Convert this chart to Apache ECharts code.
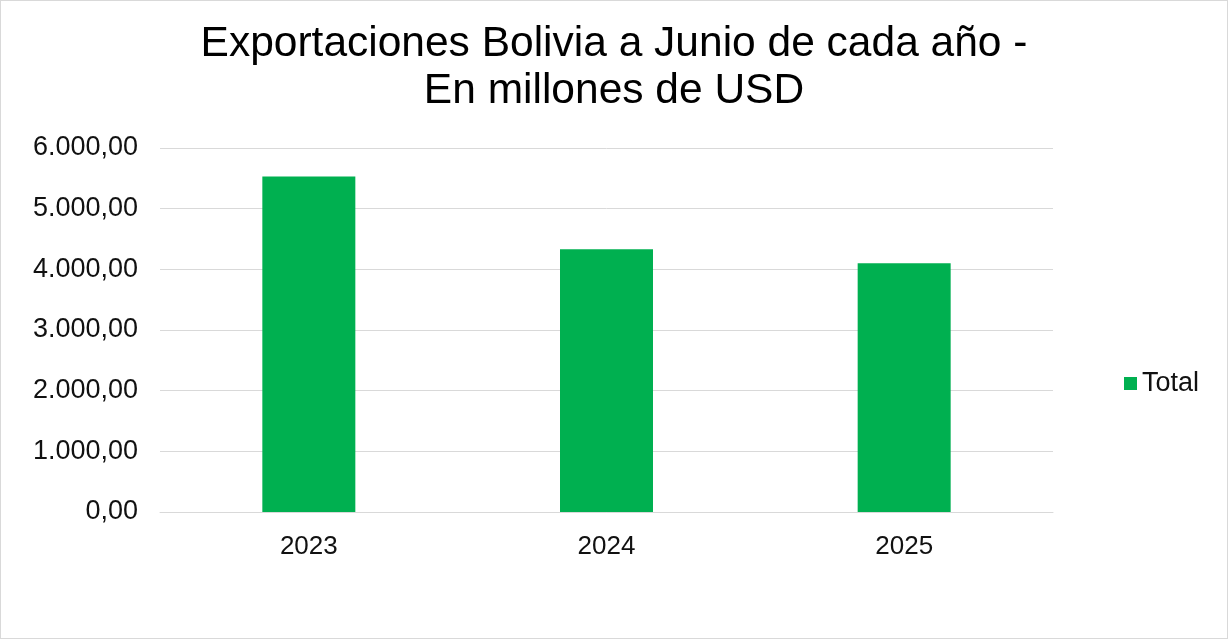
<!DOCTYPE html>
<html><head><meta charset="utf-8">
<script src="https://cdn.jsdelivr.net/npm/echarts@6/dist/echarts.min.js"></script>
<style>html,body{margin:0;padding:0;background:#fff}#c{width:1228px;height:639px;box-sizing:border-box;border:1px solid #d9d9d9}</style>
</head><body><div id="c"></div>
<script>
const categories = ['2023', '2024', '2025'];
const totalValues = [5530, 4330, 4100];
const yTicks = [0, 1000, 2000, 3000, 4000, 5000, 6000];

function fmt(v) {
  const parts = v.toFixed(2).split('.');
  parts[0] = parts[0].replace(/\B(?=(\d{3})+(?!\d))/g, '.');
  return parts[0] + ',' + parts[1];
}

const chart = echarts.init(document.getElementById('c'), null, {renderer: 'canvas'});
chart.setOption({
  animation: false,
  title: {
    text: 'Exportaciones Bolivia a Junio de cada año -\nEn millones de USD',
    left: 'center', top: 15,
    textStyle: {fontFamily: 'Liberation Sans', fontSize: 42.5, fontWeight: 'normal', color: '#000', lineHeight: 47}
  },
  legend: {
    data: ['Total'], orient: 'vertical', left: 1118, top: 364,
    itemWidth: 13, itemHeight: 13, icon: 'rect', itemGap: 6,
    textStyle: {fontFamily: 'Liberation Sans', fontSize: 27, color: '#111'}
  },
  grid: {left: 159, right: 174, top: 147, bottom: 126, containLabel: false},
  xAxis: {
    type: 'category', data: categories,
    axisLine: {lineStyle: {color: '#d9d9d9', width: 1}},
    axisTick: {show: false},
    axisLabel: {fontFamily: 'Liberation Sans', fontSize: 26, color: '#111', margin: 22}
  },
  yAxis: {
    type: 'value', min: 0, max: 6000, interval: 1000,
    axisLine: {show: false}, axisTick: {show: false},
    splitLine: {lineStyle: {color: '#d9d9d9', width: 1}},
    axisLabel: {fontFamily: 'Liberation Sans', fontSize: 27, color: '#111', margin: 22,
      formatter: v => yTicks.includes(v) ? fmt(v) : ''}
  },
  series: [{
    name: 'Total', type: 'bar', data: totalValues, barWidth: 93,
    itemStyle: {color: '#00b050'}
  }]
});
</script></body></html>
